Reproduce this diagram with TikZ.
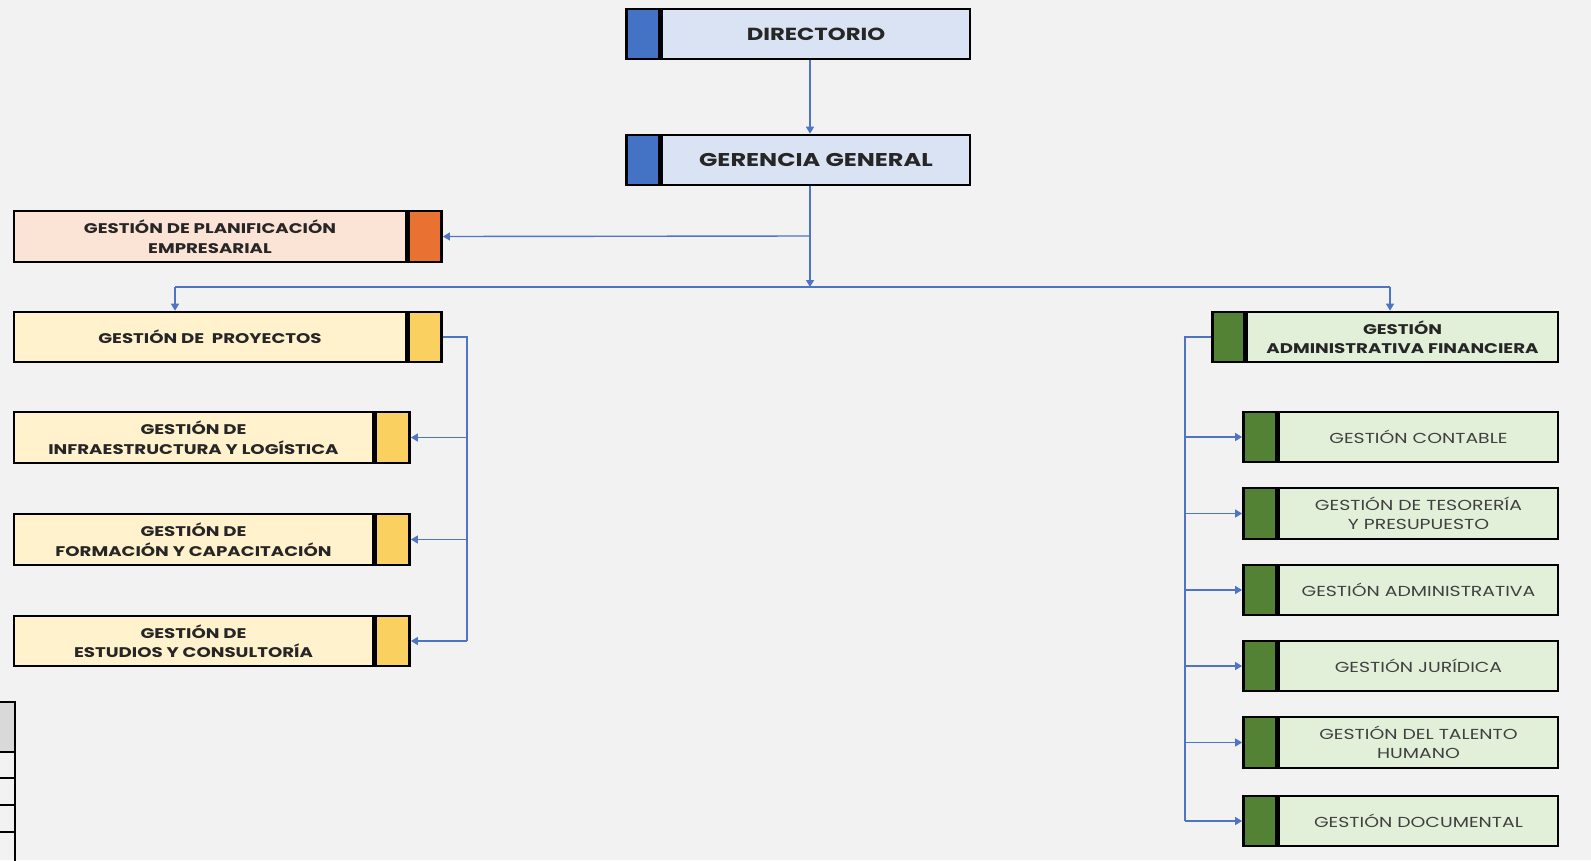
\documentclass[tikz,border=0pt]{standalone}
\usepackage{fontspec}
\setmainfont{Poppins}[FakeStretch=1.3]
\usetikzlibrary{arrows.meta}
\definecolor{bg}{HTML}{F2F2F2}
\definecolor{blueD}{HTML}{4472C4}
\definecolor{blueL}{HTML}{DAE3F3}
\definecolor{orangeD}{HTML}{E97132}
\definecolor{orangeL}{HTML}{FBE3D6}
\definecolor{yellowD}{HTML}{FAD061}
\definecolor{yellowL}{HTML}{FFF2CC}
\definecolor{greenD}{HTML}{548235}
\definecolor{greenL}{HTML}{E2F0D9}
\definecolor{conn}{HTML}{4F74C4}
\definecolor{txtL}{HTML}{262626}
\definecolor{txtR}{HTML}{404040}
\begin{document}
\begin{tikzpicture}[x=1pt,y=-1pt,
  box/.style={draw=black,line width=2.6pt,rectangle,inner sep=0pt,align=center},
  topbox/.style={box,fill=blueL,minimum width=308pt,minimum height=50pt,text=txtL,font=\bfseries\fontsize{17.5}{22}\selectfont},
  leftbox/.style={box,fill=yellowL,minimum height=51pt,text=txtL,font=\bfseries\fontsize{14}{19.5}\selectfont},
  rightbox/.style={box,fill=greenL,minimum width=279pt,minimum height=50pt,text=txtR,font=\fontsize{14.5}{19.5}\selectfont},
  stripbox/.style={box,minimum width=33pt},
  conn/.style={draw=conn,line width=1.4pt},
  arr/.style={conn,-{Triangle[width=8pt,length=7pt]}}]
\fill[bg] (0,0) rectangle (1591,860);
\useasboundingbox (0,0) rectangle (1591,860);

% top
\node[topbox] (dir) at (816,34) {DIRECTORIO};
\node[stripbox,fill=blueD,minimum height=50pt,anchor=east] (dirS) at (dir.west) {};
\node[topbox,font=\bfseries\fontsize{18.5}{22}\selectfont] (ger) at (816,160) {GERENCIA GENERAL};
\node[stripbox,fill=blueD,minimum height=50pt,anchor=east] (gerS) at (ger.west) {};

% left
\node[leftbox,fill=orangeL,minimum width=392pt] (plan) at (210,236.5) {GESTIÓN DE PLANIFICACIÓN\\EMPRESARIAL};
\node[stripbox,fill=orangeD,minimum height=51pt,anchor=west] (planS) at (plan.east) {};
\node[leftbox,minimum width=392pt,minimum height=50pt] (proy) at (210,337) {GESTIÓN DE\ \ PROYECTOS};
\node[stripbox,fill=yellowD,minimum height=50pt,anchor=west] (proyS) at (proy.east) {};
\node[leftbox,minimum width=359pt] (infra) at (193.5,437.5) {GESTIÓN DE\\INFRAESTRUCTURA Y LOGÍSTICA};
\node[stripbox,fill=yellowD,minimum height=51pt,minimum width=34pt,anchor=west] (infraS) at (infra.east) {};
\node[leftbox,minimum width=359pt] (form) at (193.5,539.5) {GESTIÓN DE\\FORMACIÓN Y CAPACITACIÓN};
\node[stripbox,fill=yellowD,minimum height=51pt,minimum width=34pt,anchor=west] (formS) at (form.east) {};
\node[leftbox,minimum width=359pt,minimum height=50pt] (est) at (193.5,641) {GESTIÓN DE\\ESTUDIOS Y CONSULTORÍA};
\node[stripbox,fill=yellowD,minimum height=50pt,minimum width=34pt,anchor=west] (estS) at (est.east) {};

% right
\node[box,fill=greenL,minimum width=311pt,minimum height=50pt,text=txtL,font=\bfseries\fontsize{14}{19.5}\selectfont] (gaf) at (1402.5,337) {GESTIÓN\\ADMINISTRATIVA FINANCIERA};
\node[stripbox,fill=greenD,minimum height=50pt,minimum width=32pt,anchor=east] (gafS) at (gaf.west) {};
\node[rightbox] (cont) at (1418.5,437) {GESTIÓN CONTABLE};
\node[stripbox,fill=greenD,minimum height=50pt,anchor=east] (contS) at (cont.west) {};
\node[rightbox,minimum height=51pt] (tes) at (1418.5,513.5) {GESTIÓN DE TESORERÍA\\Y PRESUPUESTO};
\node[stripbox,fill=greenD,minimum height=51pt,anchor=east] (tesS) at (tes.west) {};
\node[rightbox] (adm) at (1418.5,590) {GESTIÓN ADMINISTRATIVA};
\node[stripbox,fill=greenD,minimum height=50pt,anchor=east] (admS) at (adm.west) {};
\node[rightbox] (jur) at (1418.5,666) {GESTIÓN JURÍDICA};
\node[stripbox,fill=greenD,minimum height=50pt,anchor=east] (jurS) at (jur.west) {};
\node[rightbox,minimum height=51pt] (tal) at (1418.5,742.5) {GESTIÓN DEL TALENTO\\HUMANO};
\node[stripbox,fill=greenD,minimum height=51pt,anchor=east] (talS) at (tal.west) {};
\node[rightbox] (doc) at (1418.5,821) {GESTIÓN DOCUMENTAL};
\node[stripbox,fill=greenD,minimum height=50pt,anchor=east] (docS) at (doc.west) {};

% connectors
\coordinate (j1) at (810,236);
\coordinate (j2) at (810,287);
\draw[arr] (dir.south -| j1) -- (ger.north -| j1);
\draw[arr] (ger.south -| j1) -- (j2);
\draw[arr] (j1) -- (planS.east);
\draw[conn] (175,287) -- (1390,287);
\draw[arr] (175,287) -- (proy.north -| 175,0);
\draw[arr] (1390,287) -- (gaf.north -| 1390,0);

\coordinate (lb) at (467,0);
\draw[conn] (proyS.east) -| (lb |- estS.east);
\draw[arr] (lb |- infraS.east) -- (infraS.east);
\draw[arr] (lb |- formS.east) -- (formS.east);
\draw[arr] (lb |- estS.east) -- (estS.east);

\coordinate (rb) at (1185,0);
\draw[conn] (gafS.west) -| (rb |- docS.west);
\foreach \n in {contS,tesS,admS,jurS,talS,docS}
  \draw[arr] (rb |- \n.west) -- (\n.west);

% partial table at bottom-left
\fill[gray!30] (-5,702) rectangle (15,752);
\draw[black,line width=2.4pt] (-5,702) -- (15,702) -- (15,865);
\foreach \yy in {752,778,805,832}
  \draw[black,line width=1.8pt] (-5,\yy) -- (15,\yy);
\end{tikzpicture}
\end{document}
